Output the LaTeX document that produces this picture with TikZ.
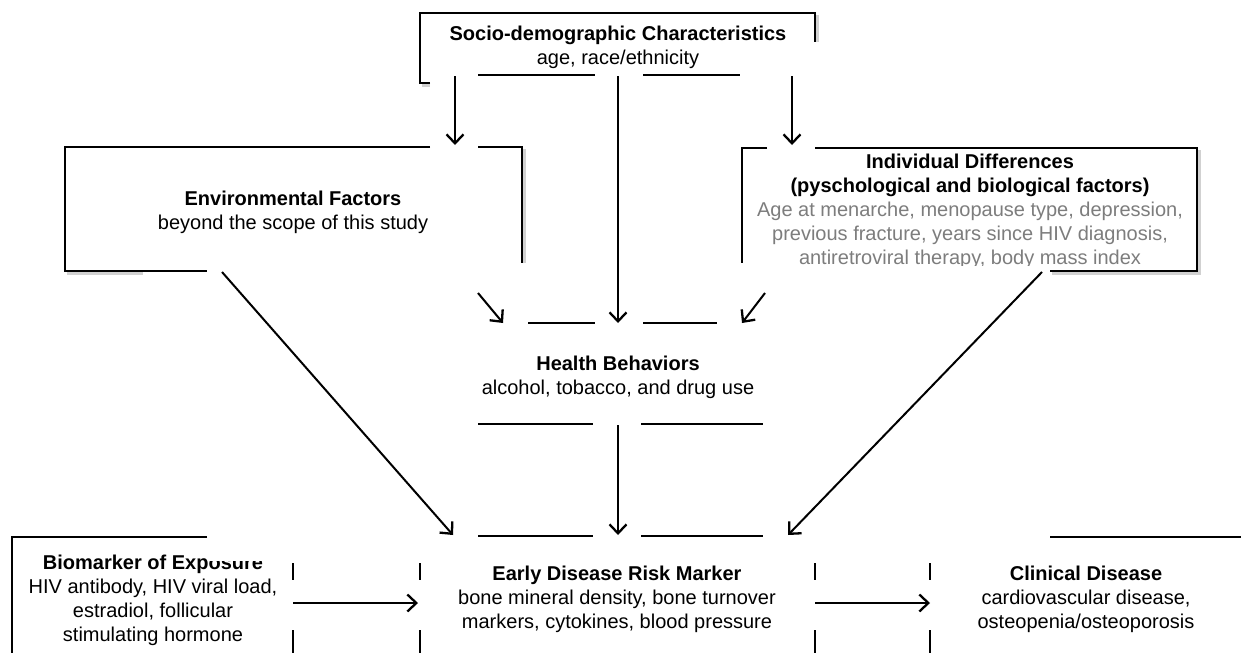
\documentclass[tikz,border=0pt]{standalone}
\usepackage{fontspec}
\setmainfont{Liberation Sans}
\usetikzlibrary{arrows.meta}
\definecolor{txtgray}{RGB}{125,125,125}
\begin{document}
\begin{tikzpicture}[x=1pt,y=-1pt,
  edge/.style={line width=2pt, line cap=butt},
  arr/.style={line width=2pt, -{Straight Barb[length=9pt,width=17pt,line width=2.3pt]}},
  shade/.style={line width=2.5pt, black!18},
  txt/.style={align=center, inner sep=0pt, font=\fontsize{20}{24}\selectfont},
  mask/.style={fill=white, draw=none},
]
\useasboundingbox (0,0) rectangle (1241,653);
\fill[white] (0,0) rectangle (1241,653);

% ---------- text nodes ----------
\node[txt] (socio) at (618,47.7) {\textbf{Socio-demographic Characteristics}\\age, race/ethnicity};
\node[txt] (env) at (293,212.7) {\textbf{Environmental Factors}\\beyond the scope of this study};
\node[txt] (indiv) at (970,211.7) {\textbf{Individual Differences}\\\textbf{(pyschological and biological factors)}\\
  \textcolor{txtgray}{Age at menarche, menopause type, depression,}\\
  \textcolor{txtgray}{previous fracture, years since HIV diagnosis,}\\
  \textcolor{txtgray}{antiretroviral therapy, body mass index}};
\node[txt] (health) at (618,377.7) {\textbf{Health Behaviors}\\alcohol, tobacco, and drug use};
\node[txt] (early) at (617,599) {\textbf{Early Disease Risk Marker}\\bone mineral density, bone turnover\\markers, cytokines, blood pressure};
\node[txt] (bio) at (153,600.5) {\textbf{Biomarker of Exposure}\\HIV antibody, HIV viral load,\\estradiol, follicular\\stimulating hormone};
\node[txt] (clin) at (1086,599) {\textbf{Clinical Disease}\\cardiovascular disease,\\osteopenia/osteoporosis};

% ---------- masks hiding parts of the texts ----------
\fill[mask] (744,266) rectangle (1049,276);
\fill[mask] (208,530) rectangle (291,561);

% ---------- drop shadows ----------
\draw[shade] (422,85.5) -- (430,85.5);
\draw[shade] (817.5,15) -- (817.5,42);
\draw[shade] (67,273.5) -- (143,273.5);
\draw[shade] (524.5,149) -- (524.5,263);
\draw[shade] (1199.5,150) -- (1199.5,273.5) -- (1052,273.5);

% ---------- box fragments ----------
% socio-demographic
\draw[edge] (430,83) -- (420,83) -- (420,13) -- (815,13) -- (815,42);
\draw[edge] (478,75) -- (595,75);
\draw[edge] (643,75) -- (740,75);
% environmental
\draw[edge] (430,147) -- (65,147) -- (65,271) -- (207,271);
\draw[edge] (478,147) -- (522,147) -- (522,263);
% individual
\draw[edge] (767,148) -- (742,148) -- (742,263);
\draw[edge] (815,148) -- (1197,148) -- (1197,271) -- (1050,271);
% health
\draw[edge] (528,323) -- (595,323);
\draw[edge] (643,323) -- (717,323);
\draw[edge] (478,424) -- (593,424);
\draw[edge] (641,424) -- (763,424);
% early
\draw[edge] (478,536) -- (593,536);
\draw[edge] (641,536) -- (763,536);
\foreach \x in {293,420,815,930}{
  \draw[edge] (\x,563) -- (\x,580);
  \draw[edge] (\x,630) -- (\x,653);
}
% biomarker
\draw[edge] (207,537) -- (12,537) -- (12,653);
% clinical
\draw[edge] (1050,537) -- (1241,537);

% ---------- connector end points ----------
\coordinate (sL) at (455,76);   \coordinate (envIn) at (455,145);
\coordinate (sM) at (618,76);   \coordinate (hTop) at (618,323);
\coordinate (sR) at (792,76);   \coordinate (indIn) at (792,145);
\coordinate (envOut1) at (478,293); \coordinate (hL) at (503,323);
\coordinate (indOut1) at (765,293); \coordinate (hR) at (742,323);
\coordinate (envOut2) at (222,272); \coordinate (eL) at (453,535);
\coordinate (indOut2) at (1042,272); \coordinate (eR) at (788,535);
\coordinate (hBot) at (618,425); \coordinate (eTop) at (618,535);
\coordinate (bioOut) at (293,603); \coordinate (eIn) at (418,603);
\coordinate (eOut) at (815,603); \coordinate (cIn) at (930,603);

% ---------- connectors ----------
\draw[arr] (sL) -- (envIn);
\draw[arr] (sM) -- (hTop);
\draw[arr] (sR) -- (indIn);
\draw[arr] (envOut1) -- (hL);
\draw[arr] (indOut1) -- (hR);
\draw[arr] (envOut2) -- (eL);
\draw[arr] (indOut2) -- (eR);
\draw[arr] (hBot) -- (eTop);
\draw[arr] (bioOut) -- (eIn);
\draw[arr] (eOut) -- (cIn);
\end{tikzpicture}
\end{document}
